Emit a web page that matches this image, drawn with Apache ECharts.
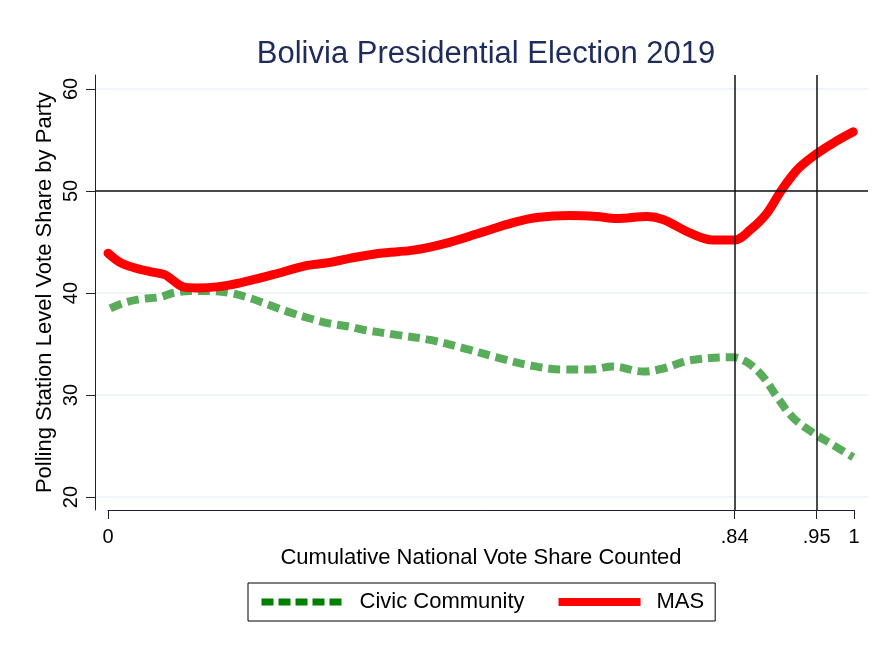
<!DOCTYPE html>
<html><head><meta charset="utf-8">
<script src="https://cdn.jsdelivr.net/npm/echarts@6/dist/echarts.min.js"></script>
<style>html,body{margin:0;padding:0;background:#fff}#c{width:875px;height:646px}</style>
</head><body><div id="c"></div>
<script>
// Cumulative national vote share counted (x) and vote share (y)
const xMAS = [0.000, 0.016, 0.034, 0.056, 0.076, 0.086, 0.101, 0.119, 0.146, 0.177, 0.221, 0.267, 0.298, 0.324, 0.365, 0.409, 0.454, 0.499, 0.543, 0.575, 0.619, 0.655, 0.682, 0.723, 0.744, 0.780, 0.811, 0.840, 0.861, 0.883, 0.903, 0.924, 0.945, 0.972, 0.999];
const yMAS = [43.9, 43.0, 42.5, 42.1, 41.8, 41.3, 40.6, 40.5, 40.6, 41.0, 41.8, 42.7, 43.0, 43.4, 43.9, 44.2, 44.9, 45.9, 46.9, 47.4, 47.6, 47.5, 47.3, 47.5, 47.2, 45.9, 45.2, 45.2, 46.2, 47.8, 50.1, 52.1, 53.4, 54.7, 55.8];
const xCC = [0.003, 0.020, 0.043, 0.070, 0.087, 0.110, 0.137, 0.164, 0.190, 0.217, 0.244, 0.271, 0.298, 0.324, 0.342, 0.387, 0.432, 0.476, 0.521, 0.566, 0.610, 0.646, 0.677, 0.717, 0.744, 0.780, 0.838, 0.857, 0.878, 0.897, 0.918, 0.945, 0.972, 0.999];
const yCC = [38.5, 39.0, 39.4, 39.6, 40.0, 40.2, 40.2, 40.0, 39.5, 38.8, 38.1, 37.5, 37.0, 36.7, 36.4, 35.9, 35.4, 34.6, 33.7, 32.9, 32.5, 32.5, 32.8, 32.3, 32.6, 33.4, 33.7, 33.2, 31.8, 29.8, 27.8, 26.3, 25.1, 23.9];
const seriesNames = ['Civic Community', 'MAS'];
const xTicks = [0, 0.84, 0.95, 1];
const yTicks = [20, 30, 40, 50, 60];
const refX = [0.84, 0.95];
const refY = [50];

const FONT = "'Liberation Sans', Arial, sans-serif";
const pairs = (xs, ys) => xs.map((x, i) => [x, ys[i]]);

const chart = echarts.init(document.getElementById('c'), null, {renderer: 'canvas'});
chart.setOption({
  backgroundColor: '#ffffff',
  animation: false,
  textStyle: {fontFamily: FONT},
  title: {
    text: 'Bolivia Presidential Election 2019',
    left: 481, top: 34, textAlign: 'center',
    textStyle: {fontFamily: FONT, fontSize: 31, fontWeight: 'normal', color: '#1e2b5b'}
  },
  legend: {
    data: [
      {name: seriesNames[0], itemStyle: {opacity: 0}, lineStyle: {color: '#008000', opacity: 1, width: 7, type: [12, 5], cap: 'butt'}},
      {name: seriesNames[1], itemStyle: {opacity: 0}, lineStyle: {color: '#ff0000', opacity: 1, width: 8, type: 'solid', cap: 'butt'}}
    ],
    left: 248, top: 583,
    padding: [8, 11, 8, 10],
    itemGap: 30, itemWidth: 82, itemHeight: 14,
    borderColor: '#000', borderWidth: 1,
    textStyle: {fontFamily: FONT, fontSize: 22, color: '#000', padding: [0, 0, 0, 11]}
  },
  grid: [
    {left: 95, right: 7, top: 75, bottom: 136},
    {left: 108, right: 21, top: 509, height: 1}
  ],
  xAxis: [
    {gridIndex: 0, type: 'value', min: -0.01743, max: 1.01877, show: false},
    {gridIndex: 1, type: 'value', min: 0, max: 1,
      axisLine: {show: true, onZero: false, lineStyle: {color: '#222', width: 1}},
      axisTick: {show: true, length: 9, lineStyle: {color: '#222'}, customValues: xTicks},
      axisLabel: {customValues: xTicks, margin: 17, fontSize: 20, color: '#000', fontFamily: FONT,
        formatter: v => String(v).replace(/^0\./, '.')},
      splitLine: {show: false},
      name: 'Cumulative National Vote Share Counted', nameLocation: 'middle', nameGap: 37,
      nameMoveOverlap: false,
      nameTextStyle: {fontSize: 22, color: '#000', fontFamily: FONT}
    }
  ],
  yAxis: [
    {gridIndex: 0, type: 'value', min: 18.73, max: 61.37,
      axisLine: {show: true, onZero: false, lineStyle: {color: '#222', width: 1}},
      axisTick: {show: true, length: 9, lineStyle: {color: '#222'}, customValues: yTicks},
      axisLabel: {customValues: yTicks, rotate: 90, margin: 14, fontSize: 20, color: '#000', fontFamily: FONT},
      splitLine: {show: true, lineStyle: {color: '#eaf2f3', width: 1.5}},
      name: 'Polling Station Level Vote Share by Party', nameLocation: 'middle', nameGap: 39,
      nameMoveOverlap: false,
      nameTextStyle: {fontSize: 22, color: '#000', fontFamily: FONT}
    },
    {gridIndex: 1, type: 'value', min: 0, max: 1, show: false}
  ],
  series: [
    {
      name: seriesNames[0], type: 'line', xAxisIndex: 0, yAxisIndex: 0,
      data: pairs(xCC, yCC), smooth: 0.35, symbol: 'none',
      lineStyle: {color: '#008000', opacity: 0.65, width: 8, type: [12, 6], cap: 'butt'},
      itemStyle: {color: '#008000'}
    },
    {
      name: seriesNames[1], type: 'line', xAxisIndex: 0, yAxisIndex: 0,
      data: pairs(xMAS, yMAS), smooth: 0.35, symbol: 'none',
      lineStyle: {color: '#ff0000', width: 9, cap: 'round'},
      itemStyle: {color: '#ff0000'},
      markLine: {
        silent: true, symbol: 'none', label: {show: false},
        lineStyle: {color: '#111', width: 1.5, type: 'solid'},
        emphasis: {disabled: true},
        data: refX.map(v => ({xAxis: v})).concat(refY.map(v => ({yAxis: v})))
      }
    }
  ]
});
</script>
</body></html>
